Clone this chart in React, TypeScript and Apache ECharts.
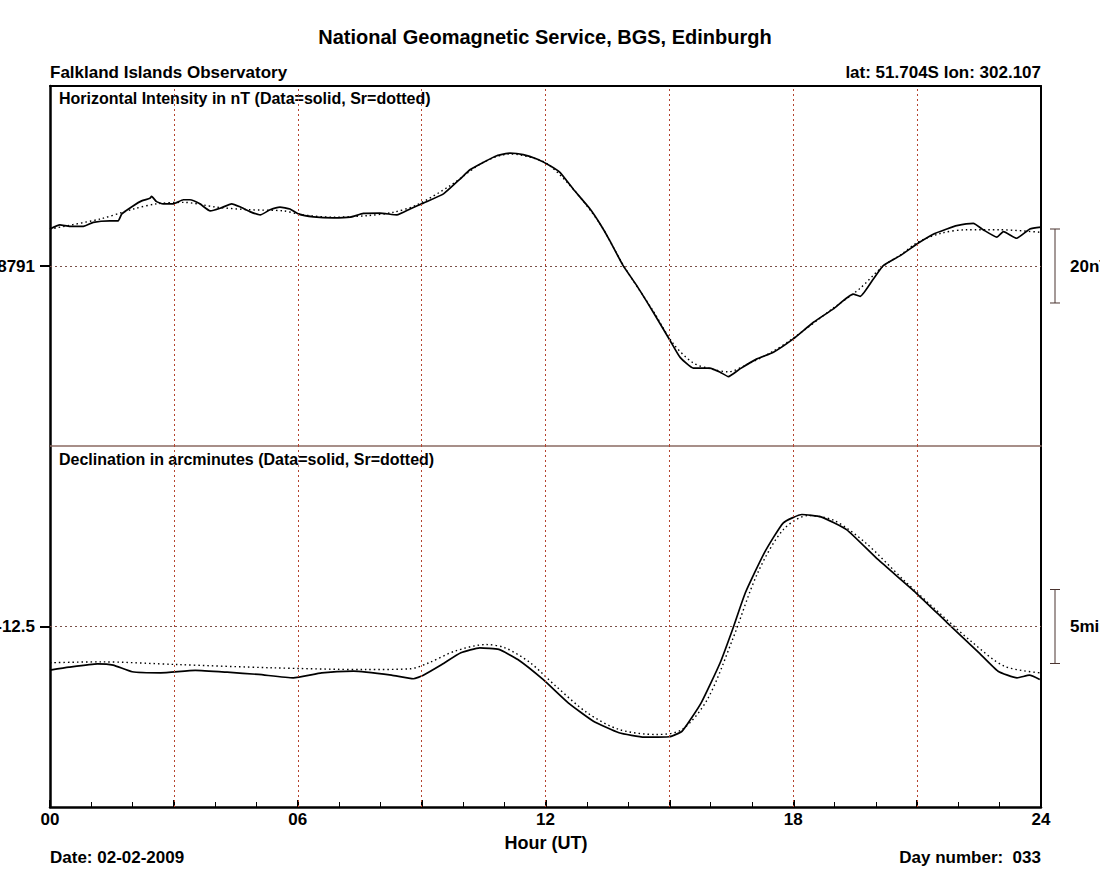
import React, { useEffect, useRef } from 'react';
import * as echarts from 'echarts';

// ---- reference levels & scale bars ----
const H_CENTER = 18791;
const D_CENTER = -12.5;
const H_SCALE = 20; // nT
const D_SCALE = 5; // arcmin
const H_HALF = 48.65;
const D_HALF = 12.2;
const hourLabels = [0, 6, 12, 18, 24];
const gridHours = [3, 6, 9, 12, 15, 18, 21];

// ---- Horizontal intensity (data, solid) ----
const hHours = [0.0, 0.24, 0.48, 0.81, 1.05, 1.45, 1.65, 1.74, 2.02, 2.22, 2.42, 2.46, 2.58, 2.74, 2.99, 3.23, 3.39, 3.63, 3.88, 4.12, 4.4, 4.6, 4.84, 5.09, 5.33, 5.57, 5.81, 6.01, 6.38, 6.86, 7.27, 7.59, 7.99, 8.4, 8.72, 9.04, 9.53, 9.93, 10.17, 10.49, 10.82, 11.14, 11.46, 11.79, 12.11, 12.35, 12.67, 13.08, 13.32, 13.56, 13.88, 14.21, 14.61, 15.02, 15.26, 15.58, 15.98, 16.23, 16.43, 16.71, 17.12, 17.52, 18.0, 18.49, 18.97, 19.45, 19.62, 19.94, 20.18, 20.59, 21.03, 21.39, 21.72, 21.96, 22.36, 22.6, 22.93, 23.09, 23.41, 23.73, 24.0];
const hData = [18801.0, 18802.1, 18801.7, 18801.7, 18802.8, 18803.2, 18803.2, 18805.1, 18807.3, 18808.6, 18809.3, 18809.8, 18808.4, 18807.8, 18807.8, 18808.9, 18808.9, 18807.8, 18805.9, 18806.6, 18807.8, 18807.0, 18805.7, 18804.8, 18806.2, 18806.9, 18806.4, 18805.1, 18804.3, 18804.0, 18804.2, 18805.2, 18805.3, 18804.8, 18806.4, 18808.0, 18810.5, 18814.5, 18817.0, 18819.0, 18820.8, 18821.5, 18821.1, 18819.9, 18818.1, 18816.3, 18811.8, 18806.4, 18802.4, 18797.8, 18791.1, 18785.7, 18778.5, 18770.8, 18766.3, 18763.4, 18763.4, 18762.3, 18761.1, 18763.2, 18765.9, 18767.7, 18771.3, 18775.8, 18779.4, 18783.4, 18782.8, 18787.5, 18791.1, 18793.8, 18797.2, 18799.6, 18801.0, 18801.9, 18802.5, 18800.8, 18798.8, 18800.3, 18798.5, 18801.0, 18801.5];

// ---- Horizontal intensity (Sr, dotted) ----
const hSrHours = [0.0, 1.21, 2.02, 2.58, 3.23, 4.04, 4.84, 5.65, 6.13, 6.86, 7.67, 8.31, 8.88, 9.69, 10.49, 11.14, 11.79, 12.11, 12.67, 13.32, 13.88, 14.61, 15.1, 15.58, 16.0, 16.43, 16.9, 17.52, 18.0, 18.97, 19.6, 20.18, 20.6, 21.03, 21.6, 22.2, 23.0, 24.0];
const hSr = [18801.0, 18803.7, 18806.4, 18807.8, 18808.2, 18806.9, 18806.2, 18805.9, 18804.8, 18804.2, 18804.6, 18805.5, 18807.5, 18812.7, 18819.0, 18821.3, 18819.9, 18818.1, 18811.8, 18802.4, 18791.3, 18778.8, 18769.9, 18764.8, 18763.2, 18762.4, 18764.5, 18768.0, 18771.5, 18779.6, 18784.8, 18791.0, 18794.0, 18797.5, 18799.9, 18800.8, 18800.8, 18800.1];

// ---- Declination (data, solid) ----
const dHours = [0.0, 0.46, 1.15, 1.53, 1.99, 2.68, 3.52, 4.29, 5.05, 5.89, 6.58, 7.35, 8.27, 8.8, 9.03, 9.49, 9.95, 10.41, 10.87, 11.33, 11.94, 12.55, 13.16, 13.78, 14.39, 15.0, 15.31, 15.77, 16.23, 16.53, 16.84, 17.3, 17.76, 18.21, 18.67, 19.29, 20.05, 20.97, 21.73, 22.5, 22.96, 23.42, 23.72, 23.97];
const dData = [-15.45, -15.25, -15.02, -15.11, -15.56, -15.63, -15.47, -15.59, -15.74, -15.97, -15.63, -15.52, -15.79, -16.03, -15.81, -15.07, -14.28, -13.94, -14.05, -14.73, -16.08, -17.66, -18.9, -19.68, -19.98, -19.95, -19.57, -17.66, -14.95, -12.7, -10.22, -7.52, -5.49, -4.93, -5.09, -5.95, -7.97, -10.22, -12.25, -14.28, -15.52, -15.97, -15.79, -16.08];

// ---- Declination (Sr, dotted) ----
const dSrHours = [0.0, 1.22, 3.06, 5.36, 7.65, 8.72, 9.18, 9.8, 10.56, 11.02, 11.63, 12.25, 13.01, 13.78, 14.69, 15.31, 15.92, 16.53, 17.14, 17.76, 18.37, 18.98, 19.75, 20.66, 21.58, 22.35, 23.11, 23.97];
const dSr = [-14.95, -14.89, -15.07, -15.29, -15.41, -15.36, -14.95, -14.17, -13.72, -13.94, -14.95, -16.53, -18.33, -19.46, -19.8, -19.46, -17.43, -13.38, -8.87, -5.95, -5.0, -5.32, -6.84, -9.32, -11.69, -13.6, -15.18, -15.63];

const zip = (xs: number[], ys: number[]) => xs.map((x, i) => [x, ys[i]]);

const FONT = '"Liberation Sans", Arial, Helvetica, sans-serif';
const GRID_COLOR = '#b4442f';
const CENTER_COLOR = '#7a5048';
const DIVIDER = '#8a6a62';

export default function App() {
  const ref = useRef<HTMLDivElement>(null);
  useEffect(() => {
    document.body.style.margin = '0';
    if (!ref.current) return;
    const chart = echarts.init(ref.current, undefined, { renderer: 'svg' });

    const gridLines = (center: number) => ({
      silent: true,
      symbol: 'none',
      label: { show: false },
      data: [
        { yAxis: center, lineStyle: { color: CENTER_COLOR, type: [2, 3], width: 1 } },
        ...gridHours.map((h) => ({ xAxis: h, lineStyle: { color: GRID_COLOR, type: [2, 3], width: 1 } })),
      ],
    });
    const yLeft = (grid: number, center: number, half: number, label: string) => ({
      type: 'value',
      gridIndex: grid,
      position: 'left',
      min: center - half,
      max: center + half,
      axisLine: { show: true, onZero: false, lineStyle: { color: '#000', width: 2.5 } },
      axisTick: { show: true, customValues: [center], length: 10, lineStyle: { color: '#000', width: 2 } },
      axisLabel: {
        show: true,
        customValues: [center],
        formatter: () => label,
        margin: 15,
        color: '#000',
        fontWeight: 'bold',
        fontSize: 17,
        fontFamily: FONT,
      },
      splitLine: { show: false },
    });
    const yRight = (grid: number, center: number, half: number) => ({
      type: 'value',
      gridIndex: grid,
      position: 'right',
      min: center - half,
      max: center + half,
      axisLine: { show: true, onZero: false, lineStyle: { color: '#000', width: 2 } },
      axisTick: { show: false },
      axisLabel: { show: false },
      splitLine: { show: false },
    });

    const option: any = {
      animation: false,
      backgroundColor: '#fff',
      grid: [
        { left: 50, top: 86, width: 991, height: 360, containLabel: false, outerBoundsMode: 'none' },
        { left: 50, top: 446, width: 991, height: 361, containLabel: false, outerBoundsMode: 'none' },
      ],
      xAxis: [
        {
          type: 'value', gridIndex: 0, position: 'bottom', min: 0, max: 24, interval: 3,
          axisLine: { show: true, onZero: false, lineStyle: { color: DIVIDER, width: 1.5 } },
          axisTick: { show: false }, axisLabel: { show: false }, splitLine: { show: false },
        },
        {
          type: 'value', gridIndex: 0, position: 'top', min: 0, max: 24, interval: 3,
          axisLine: { show: true, onZero: false, lineStyle: { color: '#000', width: 2 } },
          axisTick: { show: false }, axisLabel: { show: false }, splitLine: { show: false },
        },
        {
          type: 'value', gridIndex: 1, position: 'bottom', min: 0, max: 24, interval: 3,
          axisLine: { show: true, onZero: false, lineStyle: { color: '#000', width: 2.5 } },
          axisTick: { show: true, inside: true, length: 7, lineStyle: { color: '#000', width: 2 } },
          minorTick: { show: true, splitNumber: 3, length: 5, lineStyle: { color: '#000', width: 1 } },
          axisLabel: {
            show: true,
            margin: 4,
            color: '#000',
            fontWeight: 'bold',
            fontSize: 17,
            fontFamily: FONT,
            formatter: (v: number) => (hourLabels.includes(v) ? String(v).padStart(2, '0') : ''),
          },
          splitLine: { show: false },
        },
      ],
      yAxis: [
        yLeft(0, H_CENTER, H_HALF, String(H_CENTER)),
        yRight(0, H_CENTER, H_HALF),
        yLeft(1, D_CENTER, D_HALF, String(D_CENTER)),
        yRight(1, D_CENTER, D_HALF),
      ],
      series: [
        {
          type: 'line', xAxisIndex: 0, yAxisIndex: 0, data: zip(hSrHours, hSr), showSymbol: false,
          smooth: 0.3,
          lineStyle: { color: '#000', width: 1.4, type: [1.5, 3] }, markLine: gridLines(H_CENTER), z: 3,
        },
        {
          type: 'line', xAxisIndex: 0, yAxisIndex: 0, data: zip(hHours, hData), showSymbol: false,
          smooth: 0.15,
          lineStyle: { color: '#000', width: 1.7 }, z: 4,
        },
        {
          type: 'line', xAxisIndex: 2, yAxisIndex: 2, data: zip(dSrHours, dSr), showSymbol: false,
          smooth: 0.3,
          lineStyle: { color: '#000', width: 1.4, type: [1.5, 3] }, markLine: gridLines(D_CENTER), z: 3,
        },
        {
          type: 'line', xAxisIndex: 2, yAxisIndex: 2, data: zip(dHours, dData), showSymbol: false,
          smooth: 0.15,
          lineStyle: { color: '#000', width: 1.7 }, z: 4,
        },
      ],
    };
    chart.setOption(option);

    const txt = (text: string, x: number, y: number, size: number, align: string) => ({
      type: 'text',
      x,
      y,
      silent: true,
      style: {
        text,
        fill: '#000',
        font: `bold ${size}px ${FONT}`,
        textAlign: align,
        textVerticalAlign: 'middle',
      },
    });

    // scale bars computed from the axes
    const bar = (grid: number, center: number, span: number, label: string) => {
      const p1 = chart.convertToPixel({ gridIndex: grid } as any, [24, center + span / 2]) as number[];
      const p2 = chart.convertToPixel({ gridIndex: grid } as any, [24, center - span / 2]) as number[];
      const pc = chart.convertToPixel({ gridIndex: grid } as any, [24, center]) as number[];
      const bx = p1[0] + 14;
      const stroke = { stroke: '#4a3430', lineWidth: 1 };
      return [
        { type: 'line', silent: true, shape: { x1: bx, y1: p1[1], x2: bx, y2: p2[1] }, style: stroke },
        { type: 'line', silent: true, shape: { x1: bx - 5, y1: p1[1], x2: bx + 5, y2: p1[1] }, style: stroke },
        { type: 'line', silent: true, shape: { x1: bx - 5, y1: p2[1], x2: bx + 5, y2: p2[1] }, style: stroke },
        txt(label, bx + 15, pc[1], 17, 'left'),
      ];
    };

    chart.setOption({
      graphic: [
        txt('National Geomagnetic Service, BGS, Edinburgh', 545, 37, 20, 'center'),
        txt('Falkland Islands Observatory', 50, 72, 17, 'left'),
        txt('lat: 51.704S lon: 302.107', 1041, 72, 17, 'right'),
        txt('Horizontal Intensity in nT (Data=solid, Sr=dotted)', 59, 98, 16, 'left'),
        txt('Declination in arcminutes (Data=solid, Sr=dotted)', 59, 459, 16, 'left'),
        txt('Hour (UT)', 546, 843, 18, 'center'),
        txt('Date: 02-02-2009', 50, 857, 17, 'left'),
        txt('Day number:  033', 1041, 857, 17, 'right'),
        ...bar(0, H_CENTER, H_SCALE, `${H_SCALE}nT`),
        ...bar(1, D_CENTER, D_SCALE, `${D_SCALE}min`),
      ],
    });

    return () => chart.dispose();
  }, []);

  return <div ref={ref} style={{ width: 1100, height: 873 }} />;
}
